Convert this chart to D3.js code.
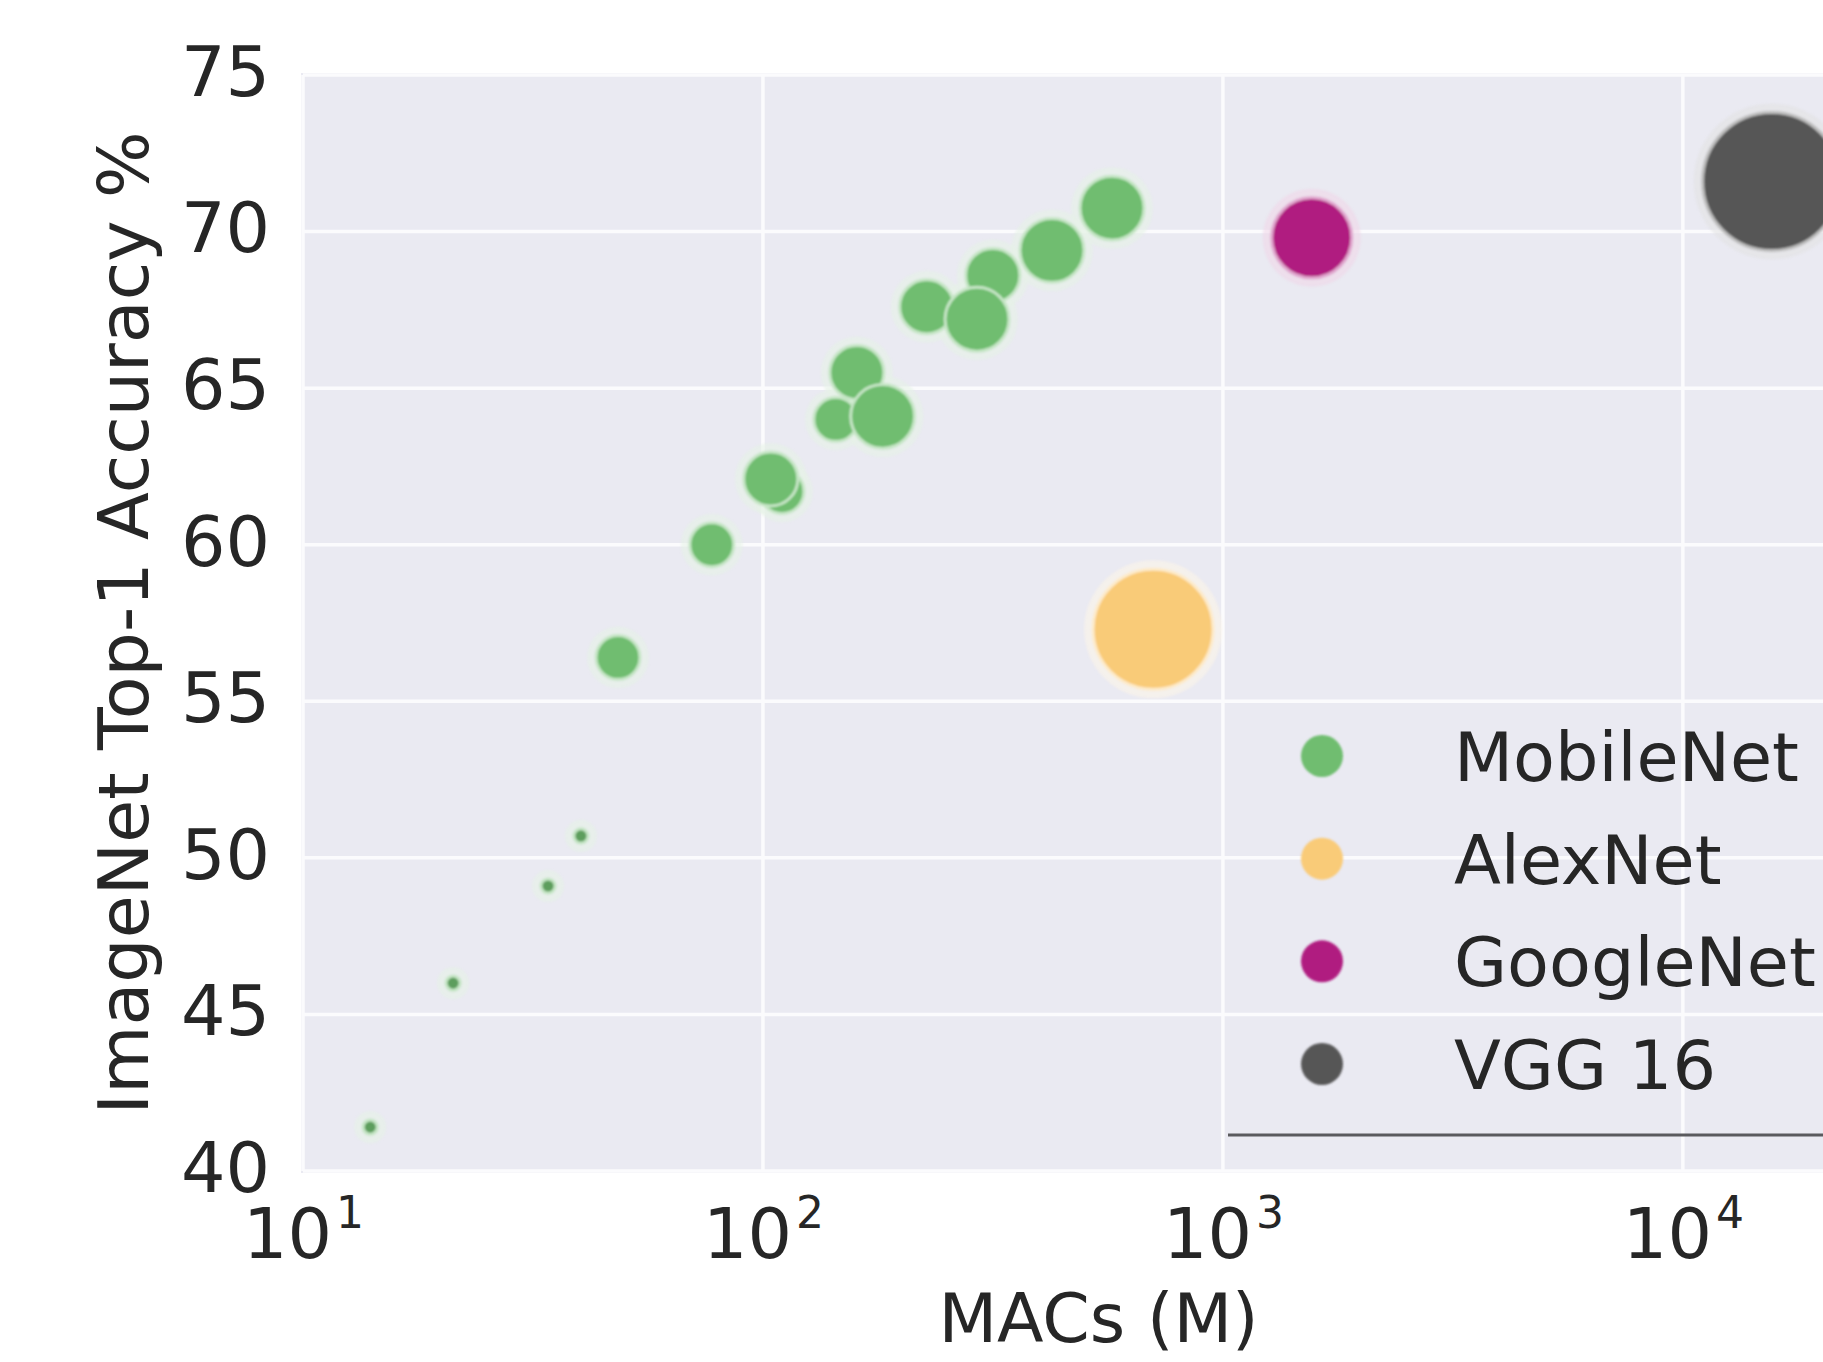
<!DOCTYPE html>
<html>
<head>
<meta charset="utf-8">
<script src="https://cdn.jsdelivr.net/npm/d3@7"></script>
<style>
	body { margin: 0; background: #fff; overflow: hidden; }
	text { font-family: "DejaVu Sans", sans-serif; fill: #262626; }
</style>
</head>
<body>
<svg id="viz"></svg>
<script>

	// the data
	var models = ["MobileNet", "AlexNet", "GoogleNet", "VGG 16"];
	var colors = ["#6fbd6f", "#f9cb78", "#b01c80", "#565656"];

	// one entry per point (model index, MACs in millions, top-1 %, marker size)
	var pointModel = [0, 0, 0, 0, 0, 0, 0, 0, 0, 0, 0, 0, 0, 0, 0, 0, 1, 2, 3];
	var macs = [14, 21.2, 34.1, 40.2, 48.4, 77.4, 110, 144, 104, 160, 227, 316, 182, 292, 425, 574, 705, 1560, 15600];
	var accuracy = [41.4, 46.0, 49.1, 50.7, 56.4, 60.0, 61.7, 64.0, 62.1, 65.5, 67.6, 68.6, 64.1, 67.2, 69.4, 70.75, 57.3, 69.8, 71.6];
	var sizes = [50, 50, 50, 50, 480, 480, 480, 480, 730, 730, 730, 730, 1020, 1020, 1020, 1020, 3600, 1600, 4760];

	var xTicks = [10, 100, 1000, 10000];
	var yTicks = [40, 45, 50, 55, 60, 65, 70, 75];



	// set up the svg
	var w = 1823;
	var h = 1362;
	var margin = {left: 303, top: 75, right: 1894, bottom: 1171};
	var viz = d3.select("#viz").attr("width", w).attr("height", h);

	var x = d3.scaleLog().domain([10, Math.pow(10, 4.459)]).range([margin.left, margin.right]);
	var y = d3.scaleLinear().domain([40, 75]).range([margin.bottom, margin.top]);
	var r = d3.scaleSqrt().domain([0, 4760]).range([0, 69]);

	var points = macs.map(function(d, i) {
		return {m: d, acc: accuracy[i], s: sizes[i], model: pointModel[i]};
	});

	var defs = viz.append("defs");
	defs.append("filter").attr("id", "soft")
		.append("feGaussianBlur").attr("stdDeviation", 1.1);



	// plot background and grid
	viz.append("rect")
		.attr("x", margin.left - 2)
		.attr("y", margin.top - 2)
		.attr("width", margin.right - margin.left + 2)
		.attr("height", margin.bottom - margin.top + 4)
		.attr("fill", "#eaeaf2");

	viz.selectAll("line.hgrid")
		.data(yTicks)
		.enter()
		.append("line")
		.attr("class", "hgrid")
		.attr("x1", margin.left)
		.attr("x2", margin.right)
		.attr("y1", function(d) { return y(d); })
		.attr("y2", function(d) { return y(d); })
		.attr("stroke", "#fbfbfd")
		.attr("stroke-width", 3.5);

	viz.selectAll("line.vgrid")
		.data(xTicks)
		.enter()
		.append("line")
		.attr("class", "vgrid")
		.attr("x1", function(d) { return x(d); })
		.attr("x2", function(d) { return x(d); })
		.attr("y1", margin.top)
		.attr("y2", margin.bottom)
		.attr("stroke", "#fbfbfd")
		.attr("stroke-width", 3.5);



	// draw the points
	var marks = viz.append("g").attr("filter", "url(#soft)");

	marks.selectAll("circle.halo")
		.data(points)
		.enter()
		.append("circle")
		.attr("class", "halo")
		.attr("cx", function(d) { return x(d.m); })
		.attr("cy", function(d) { return y(d.acc); })
		.attr("r", function(d) { return r(d.s) + 9; })
		.attr("fill", function(d) { return d3.interpolateRgb(colors[d.model], "#ffffff")(0.82); })
		.attr("opacity", 0.55);

	marks.selectAll("circle.dot")
		.data(points)
		.enter()
		.append("circle")
		.attr("class", "dot")
		.attr("cx", function(d) { return x(d.m); })
		.attr("cy", function(d) { return y(d.acc); })
		.attr("r", function(d) { return r(d.s); })
		.attr("fill", function(d) {
			// the tiny markers read darker in the reference
			return d.s < 100 ? d3.color(colors[d.model]).darker(0.5) : colors[d.model];
		})
		.attr("stroke", function(d) { return d3.interpolateRgb(colors[d.model], "#ffffff")(0.6); })
		.attr("stroke-width", 3);



	// axes
	var xAxis = viz.append("g")
		.attr("transform", "translate(0," + margin.bottom + ")")
		.call(d3.axisBottom(x).tickValues(xTicks).tickSize(0).tickFormat(""));
	xAxis.select(".domain").remove();
	xAxis.attr("font-size", 70).attr("font-family", "DejaVu Sans");
	xAxis.selectAll(".tick text")
		.attr("y", 87)
		.attr("dy", null)
		.each(function(d) {
			var t = d3.select(this);
			t.append("tspan").text("10");
			t.append("tspan")
				.attr("dy", -30)
				.attr("dx", 4)
				.attr("font-size", 44)
				.text(Math.round(Math.log10(d)));
		});

	var yAxis = viz.append("g")
		.attr("transform", "translate(" + margin.left + ",0)")
		.call(d3.axisLeft(y).tickValues(yTicks).tickSize(0));
	yAxis.select(".domain").remove();
	yAxis.attr("font-size", 70).attr("font-family", "DejaVu Sans");
	yAxis.selectAll(".tick text")
		.attr("x", -33)
		.attr("dy", "0.29em");

	// axis titles
	viz.append("text")
		.attr("x", (margin.left + margin.right) / 2)
		.attr("y", 1342)
		.attr("text-anchor", "middle")
		.attr("font-size", 68)
		.text("MACs (M)");

	viz.append("text")
		.attr("transform", "translate(148," + (margin.top + margin.bottom) / 2 + ") rotate(-90)")
		.attr("text-anchor", "middle")
		.attr("font-size", 70)
		.text("ImageNet Top-1 Accuracy %");



	// legend
	var legendY = d3.scalePoint().domain(models).range([756, 1064]);

	var legend = viz.append("g");
	legend.selectAll("circle")
		.data(models)
		.enter()
		.append("circle")
		.attr("cx", 1322)
		.attr("cy", function(d) { return legendY(d); })
		.attr("r", 21)
		.attr("fill", function(d, i) { return colors[i]; })
		.attr("filter", "url(#soft)");

	legend.selectAll("text")
		.data(models)
		.enter()
		.append("text")
		.attr("x", 1454)
		.attr("y", function(d) { return legendY(d) + 25; })
		.attr("font-size", 68.5)
		.text(function(d) { return d; });

	// the dark rule under the legend
	legend.append("line")
		.attr("x1", 1228)
		.attr("x2", w)
		.attr("y1", 1135)
		.attr("y2", 1135)
		.attr("stroke", "#5a5a5e")
		.attr("stroke-width", 3);

</script>
</body>
</html>
